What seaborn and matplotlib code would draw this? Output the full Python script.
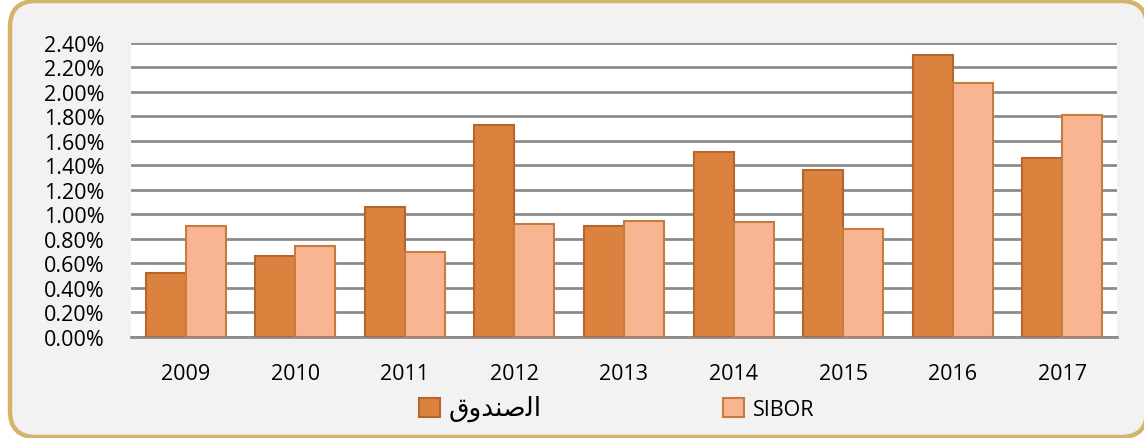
import numpy as np
import pandas as pd
import seaborn as sns
import matplotlib.pyplot as plt
from matplotlib.patches import FancyBboxPatch, Patch
from matplotlib.ticker import PercentFormatter

# data (fraction, not %)
years = ['2009', '2010', '2011', '2012', '2013', '2014', '2015', '2016', '2017']
fund = [0.0052, 0.0066, 0.0106, 0.0173, 0.0091, 0.0151, 0.0136, 0.0230, 0.0146]
sibor = [0.0091, 0.0074, 0.0069, 0.0092, 0.0095, 0.0094, 0.0088, 0.0207, 0.0181]

# الصندوق written in shaped presentation forms, visual order (matplotlib has no shaping)
fund_name = '\uFED5\uFEED\uFEAA\uFEE8\uFEBB\uFEDF\uFE8D'
sibor_name = 'SIBOR'

df = pd.DataFrame({
    'year': years * 2,
    'value': fund + sibor,
    'series': [fund_name] * len(years) + [sibor_name] * len(years),
})

fills = ['#DB833E', '#F8B591']
edges = ['#B5662C', '#C97A3F']

sns.set_style('white')
plt.rcParams['font.family'] = ['Open Sans', 'DejaVu Sans']

fig = plt.figure(figsize=(11.44, 4.39), dpi=100, facecolor='white')

# rounded frame behind everything (pixel coords)
bg = fig.add_axes([0, 0, 1, 1], zorder=-10)
bg.set_xlim(0, 1144)
bg.set_ylim(0, 439)
bg.axis('off')
bg.add_patch(FancyBboxPatch((10, 1), 1137, 436,
                            boxstyle='round,pad=0,rounding_size=26',
                            facecolor='#F2F2F2', edgecolor='#D5B36B', lw=3.2))

ax = fig.add_axes([0.1145, 0.2301, 0.8619, 0.6697])
sns.barplot(data=df, x='year', y='value', hue='series', palette=fills,
            saturation=1, width=0.73, gap=0, ax=ax, legend=False, zorder=3)

for cont, ec in zip(ax.containers, edges):
    for bar in cont:
        bar.set_edgecolor(ec)
        bar.set_linewidth(1.5)

ax.set_facecolor('white')
ax.set_ylim(0, 0.024)
ax.set_yticks(np.arange(0, 0.0241, 0.002))
ax.yaxis.set_major_formatter(PercentFormatter(1.0, decimals=2))
ax.grid(axis='y', color='#8C8C8C', lw=2)
ax.set_axisbelow(True)
for s in ['top', 'right', 'left']:
    ax.spines[s].set_visible(False)
ax.spines['bottom'].set_color('#8C8C8C')
ax.spines['bottom'].set_linewidth(2)
ax.tick_params(axis='y', length=0, pad=19, labelsize=15.5, labelcolor='black')
ax.tick_params(axis='x', length=0, pad=19, labelsize=15.5, labelcolor='black')
ax.set_xlabel('')
ax.set_ylabel('')

handles = [Patch(facecolor=fills[0], edgecolor=edges[0], lw=1.5),
           Patch(facecolor=fills[1], edgecolor=edges[1], lw=1.5)]
leg = fig.legend(handles, [fund_name, sibor_name], loc='center', bbox_to_anchor=(0.539, 0.068),
                 ncol=2, frameon=False, fontsize=15.5, handlelength=1.0, handleheight=1.0,
                 handletextpad=0.4, columnspacing=8.4)
leg.get_texts()[0].set_fontsize(19)
for t in leg.get_texts():
    t.set_color('black')

fig.savefig('out.png', dpi=100)
